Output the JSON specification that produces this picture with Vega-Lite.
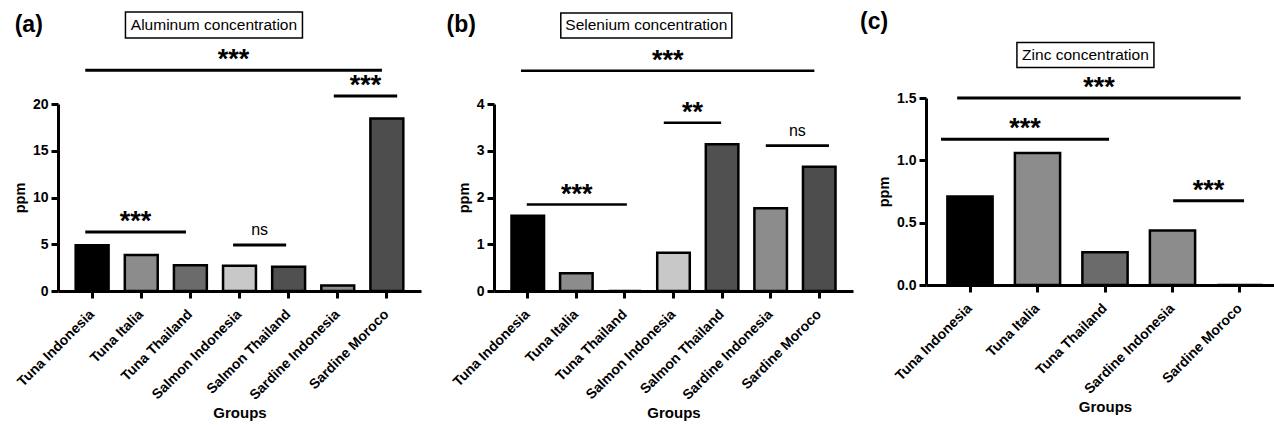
{
  "$schema": "https://vega.github.io/schema/vega-lite/v6.json",
  "background": "white",
  "padding": {"left": 12, "top": 8, "right": 0, "bottom": 0},
  "config": {
    "font": "Liberation Sans",
    "view": {"stroke": null},
    "axis": {"domainColor": "black", "domainWidth": 3, "tickColor": "black", "tickWidth": 3, "tickSize": 7, "grid": false, "labelColor": "black", "titleColor": "black", "labelFontWeight": "bold", "titleFontWeight": "bold", "labelFont": "Liberation Sans", "titleFont": "Liberation Sans"},
    "axisX": {"labelAngle": -45, "labelFontSize": 14, "titleFontSize": 15, "titlePadding": 3, "labelPadding": 9, "labelOffset": -5},
    "axisY": {"labelFontSize": 14, "titleFontSize": 14.5, "titlePadding": 5, "labelPadding": 3}
  },
  "datasets": {
    "al": [
      {"group": "Tuna Indonesia", "ppm": 4.9},
      {"group": "Tuna Italia", "ppm": 3.85},
      {"group": "Tuna Thailand", "ppm": 2.75},
      {"group": "Salmon Indonesia", "ppm": 2.7},
      {"group": "Salmon Thailand", "ppm": 2.6},
      {"group": "Sardine Indonesia", "ppm": 0.6},
      {"group": "Sardine Moroco", "ppm": 18.45}
    ],
    "se": [
      {"group": "Tuna Indonesia", "ppm": 1.61},
      {"group": "Tuna Italia", "ppm": 0.38},
      {"group": "Tuna Thailand", "ppm": 0},
      {"group": "Salmon Indonesia", "ppm": 0.82},
      {"group": "Salmon Thailand", "ppm": 3.14},
      {"group": "Sardine Indonesia", "ppm": 1.77},
      {"group": "Sardine Moroco", "ppm": 2.66}
    ],
    "zn": [
      {"group": "Tuna Indonesia", "ppm": 0.71},
      {"group": "Tuna Italia", "ppm": 1.058},
      {"group": "Tuna Thailand", "ppm": 0.262},
      {"group": "Sardine Indonesia", "ppm": 0.438},
      {"group": "Sardine Moroco", "ppm": 0}
    ],
    "annA": [
      {"x0": -0.14, "x1": 5.9, "y": 23.6, "label": "***"},
      {"x0": 4.92, "x1": 6.21, "y": 20.86, "label": "***"},
      {"x0": -0.14, "x1": 1.91, "y": 6.31, "label": "***"},
      {"x0": 2.87, "x1": 3.95, "y": 4.92, "label": "ns"}
    ],
    "annB": [
      {"x0": -0.14, "x1": 5.9, "y": 4.71, "label": "***"},
      {"x0": 2.8, "x1": 3.98, "y": 3.6, "label": "**"},
      {"x0": 4.9, "x1": 6.2, "y": 3.11, "label": "ns"},
      {"x0": -0.02, "x1": 2.04, "y": 1.85, "label": "***"}
    ],
    "annC": [
      {"x0": -0.19, "x1": 4.01, "y": 1.5, "label": "***"},
      {"x0": -0.43, "x1": 2.06, "y": 1.169, "label": "***"},
      {"x0": 3.01, "x1": 4.06, "y": 0.675, "label": "***"}
    ],
    "tA": [{"panel": "(a)", "title": "Aluminum concentration"}],
    "tB": [{"panel": "(b)", "title": "Selenium concentration"}],
    "tC": [{"panel": "(c)", "title": "Zinc concentration"}]
  },
  "bounds": "flush",
  "spacing": 73,
  "hconcat": [
    {
      "width": 363,
      "height": 187,
      "resolve": {"scale": {"x": "independent"}},
      "layer": [
        {
          "data": {"name": "al"},
          "mark": {"type": "bar", "stroke": "black", "strokeWidth": 2.5},
          "encoding": {
            "x": {"field": "group", "type": "nominal", "sort": null, "scale": {"paddingInner": 0.33, "paddingOuter": 0.36}, "axis": {"title": "Groups"}},
            "y": {"field": "ppm", "type": "quantitative", "title": "ppm", "scale": {"domain": [0, 20], "nice": false}, "axis": {"values": [0, 5, 10, 15, 20]}},
            "color": {"field": "group", "type": "nominal", "legend": null, "scale": {"domain": ["Tuna Indonesia", "Tuna Italia", "Tuna Thailand", "Salmon Indonesia", "Salmon Thailand", "Sardine Indonesia", "Sardine Moroco"], "range": ["#000000", "#8c8c8c", "#6b6b6b", "#c8c8c8", "#505050", "#8c8c8c", "#4d4d4d"]}}
          }
        },
        {
          "data": {"name": "annA"},
          "mark": {"type": "rule", "strokeWidth": 3, "color": "black"},
          "encoding": {
            "x": {"field": "x0", "type": "quantitative", "scale": {"domain": [-0.695, 6.695], "nice": false, "zero": false}, "axis": null},
            "x2": {"field": "x1"},
            "y": {"field": "y", "type": "quantitative", "title": "ppm", "scale": {"domain": [0, 20], "nice": false}}
          }
        },
        {
          "data": {"name": "annA"},
          "transform": [{"filter": "datum.label != 'ns'"}, {"calculate": "(datum.x0 + datum.x1) / 2", "as": "xm"}],
          "mark": {"type": "text", "fontSize": 27, "fontWeight": "bold", "baseline": "alphabetic", "align": "center", "dy": -2, "color": "black"},
          "encoding": {
            "x": {"field": "xm", "type": "quantitative", "scale": {"domain": [-0.695, 6.695], "nice": false, "zero": false}, "axis": null},
            "y": {"field": "y", "type": "quantitative", "title": "ppm", "scale": {"domain": [0, 20], "nice": false}},
            "text": {"field": "label"}
          }
        },
        {
          "data": {"name": "annA"},
          "transform": [{"filter": "datum.label == 'ns'"}, {"calculate": "(datum.x0 + datum.x1) / 2", "as": "xm"}],
          "mark": {"type": "text", "fontSize": 16, "baseline": "alphabetic", "align": "center", "dy": -10, "color": "black"},
          "encoding": {
            "x": {"field": "xm", "type": "quantitative", "scale": {"domain": [-0.695, 6.695], "nice": false, "zero": false}, "axis": null},
            "y": {"field": "y", "type": "quantitative", "title": "ppm", "scale": {"domain": [0, 20], "nice": false}},
            "text": {"field": "label"}
          }
        },
        {
          "data": {"name": "tA"},
          "mark": {"type": "point", "shape": "M-1,-0.147L1,-0.147L1,0.147L-1,0.147Z", "size": 31329, "filled": false, "stroke": "black", "strokeWidth": 1.5, "opacity": 1},
          "encoding": {
            "x": {"datum": 2.48, "type": "quantitative", "scale": {"domain": [-0.695, 6.695], "nice": false, "zero": false}, "axis": null},
            "y": {"datum": 28.45, "type": "quantitative", "title": "ppm", "scale": {"domain": [0, 20], "nice": false}}
          }
        },
        {
          "data": {"name": "tA"},
          "mark": {"type": "text", "fontSize": 15.5, "baseline": "middle", "align": "center", "color": "black"},
          "encoding": {
            "x": {"datum": 2.48, "type": "quantitative", "scale": {"domain": [-0.695, 6.695], "nice": false, "zero": false}, "axis": null},
            "y": {"datum": 28.45, "type": "quantitative", "title": "ppm", "scale": {"domain": [0, 20], "nice": false}},
            "text": {"field": "title"}
          }
        },
        {
          "data": {"name": "tA"},
          "mark": {"type": "text", "fontSize": 23, "fontWeight": "bold", "baseline": "middle", "align": "center", "color": "black"},
          "encoding": {
            "x": {"datum": -1.29, "type": "quantitative", "scale": {"domain": [-0.695, 6.695], "nice": false, "zero": false}, "axis": null},
            "y": {"datum": 28.45, "type": "quantitative", "title": "ppm", "scale": {"domain": [0, 20], "nice": false}},
            "text": {"field": "panel"}
          }
        }
      ]
    },
    {
      "width": 359,
      "height": 187,
      "resolve": {"scale": {"x": "independent"}},
      "layer": [
        {
          "data": {"name": "se"},
          "mark": {"type": "bar", "stroke": "black", "strokeWidth": 2.5},
          "encoding": {
            "x": {"field": "group", "type": "nominal", "sort": null, "scale": {"paddingInner": 0.33, "paddingOuter": 0.36}, "axis": {"title": "Groups"}},
            "y": {"field": "ppm", "type": "quantitative", "title": "ppm", "scale": {"domain": [0, 4], "nice": false}, "axis": {"values": [0, 1, 2, 3, 4]}},
            "color": {"field": "group", "type": "nominal", "legend": null, "scale": {"domain": ["Tuna Indonesia", "Tuna Italia", "Tuna Thailand", "Salmon Indonesia", "Salmon Thailand", "Sardine Indonesia", "Sardine Moroco"], "range": ["#000000", "#8c8c8c", "#6b6b6b", "#c8c8c8", "#505050", "#8c8c8c", "#4d4d4d"]}}
          }
        },
        {
          "data": {"name": "annB"},
          "mark": {"type": "rule", "strokeWidth": 2.6, "color": "black"},
          "encoding": {
            "x": {"field": "x0", "type": "quantitative", "scale": {"domain": [-0.695, 6.695], "nice": false, "zero": false}, "axis": null},
            "x2": {"field": "x1"},
            "y": {"field": "y", "type": "quantitative", "title": "ppm", "scale": {"domain": [0, 4], "nice": false}}
          }
        },
        {
          "data": {"name": "annB"},
          "transform": [{"filter": "datum.label != 'ns'"}, {"calculate": "(datum.x0 + datum.x1) / 2", "as": "xm"}],
          "mark": {"type": "text", "fontSize": 27, "fontWeight": "bold", "baseline": "alphabetic", "align": "center", "dy": -2, "color": "black"},
          "encoding": {
            "x": {"field": "xm", "type": "quantitative", "scale": {"domain": [-0.695, 6.695], "nice": false, "zero": false}, "axis": null},
            "y": {"field": "y", "type": "quantitative", "title": "ppm", "scale": {"domain": [0, 4], "nice": false}},
            "text": {"field": "label"}
          }
        },
        {
          "data": {"name": "annB"},
          "transform": [{"filter": "datum.label == 'ns'"}, {"calculate": "(datum.x0 + datum.x1) / 2", "as": "xm"}],
          "mark": {"type": "text", "fontSize": 16, "baseline": "alphabetic", "align": "center", "dy": -10, "color": "black"},
          "encoding": {
            "x": {"field": "xm", "type": "quantitative", "scale": {"domain": [-0.695, 6.695], "nice": false, "zero": false}, "axis": null},
            "y": {"field": "y", "type": "quantitative", "title": "ppm", "scale": {"domain": [0, 4], "nice": false}},
            "text": {"field": "label"}
          }
        },
        {
          "data": {"name": "tB"},
          "mark": {"type": "point", "shape": "M-1,-0.146L1,-0.146L1,0.146L-1,0.146Z", "size": 29241, "filled": false, "stroke": "black", "strokeWidth": 1.5, "opacity": 1},
          "encoding": {
            "x": {"datum": 2.44, "type": "quantitative", "scale": {"domain": [-0.695, 6.695], "nice": false, "zero": false}, "axis": null},
            "y": {"datum": 5.68, "type": "quantitative", "title": "ppm", "scale": {"domain": [0, 4], "nice": false}}
          }
        },
        {
          "data": {"name": "tB"},
          "mark": {"type": "text", "fontSize": 15.5, "baseline": "middle", "align": "center", "color": "black"},
          "encoding": {
            "x": {"datum": 2.44, "type": "quantitative", "scale": {"domain": [-0.695, 6.695], "nice": false, "zero": false}, "axis": null},
            "y": {"datum": 5.68, "type": "quantitative", "title": "ppm", "scale": {"domain": [0, 4], "nice": false}},
            "text": {"field": "title"}
          }
        },
        {
          "data": {"name": "tB"},
          "mark": {"type": "text", "fontSize": 23, "fontWeight": "bold", "baseline": "middle", "align": "center", "color": "black"},
          "encoding": {
            "x": {"datum": -1.37, "type": "quantitative", "scale": {"domain": [-0.695, 6.695], "nice": false, "zero": false}, "axis": null},
            "y": {"datum": 5.69, "type": "quantitative", "title": "ppm", "scale": {"domain": [0, 4], "nice": false}},
            "text": {"field": "panel"}
          }
        }
      ]
    },
    {
      "width": 358,
      "height": 181,
      "resolve": {"scale": {"x": "independent"}},
      "layer": [
        {
          "data": {"name": "zn"},
          "mark": {"type": "bar", "stroke": "black", "strokeWidth": 2.5},
          "encoding": {
            "x": {"field": "group", "type": "nominal", "sort": null, "scale": {"paddingInner": 0.33, "paddingOuter": 0.317}, "axis": {"title": "Groups"}},
            "y": {"field": "ppm", "type": "quantitative", "title": "ppm", "scale": {"domain": [0, 1.5], "nice": false, "range": [181, -6]}, "axis": {"values": [0, 0.5, 1, 1.5], "format": ".1f"}},
            "color": {"field": "group", "type": "nominal", "legend": null, "scale": {"domain": ["Tuna Indonesia", "Tuna Italia", "Tuna Thailand", "Salmon Indonesia", "Salmon Thailand", "Sardine Indonesia", "Sardine Moroco"], "range": ["#000000", "#8c8c8c", "#6b6b6b", "#c8c8c8", "#505050", "#8c8c8c", "#4d4d4d"]}}
          }
        },
        {
          "data": {"name": "annC"},
          "mark": {"type": "rule", "strokeWidth": 3, "color": "black"},
          "encoding": {
            "x": {"field": "x0", "type": "quantitative", "scale": {"domain": [-0.652, 4.652], "nice": false, "zero": false}, "axis": null},
            "x2": {"field": "x1"},
            "y": {"field": "y", "type": "quantitative", "title": "ppm", "scale": {"domain": [0, 1.5], "nice": false, "range": [181, -6]}}
          }
        },
        {
          "data": {"name": "annC"},
          "transform": [{"calculate": "(datum.x0 + datum.x1) / 2", "as": "xm"}],
          "mark": {"type": "text", "fontSize": 27, "fontWeight": "bold", "baseline": "alphabetic", "align": "center", "dy": -2, "color": "black"},
          "encoding": {
            "x": {"field": "xm", "type": "quantitative", "scale": {"domain": [-0.652, 4.652], "nice": false, "zero": false}, "axis": null},
            "y": {"field": "y", "type": "quantitative", "title": "ppm", "scale": {"domain": [0, 1.5], "nice": false, "range": [181, -6]}},
            "text": {"field": "label"}
          }
        },
        {
          "data": {"name": "tC"},
          "mark": {"type": "point", "shape": "M-1,-0.182L1,-0.182L1,0.182L-1,0.182Z", "size": 18769, "filled": false, "stroke": "black", "strokeWidth": 1.5, "opacity": 1},
          "encoding": {
            "x": {"datum": 1.71, "type": "quantitative", "scale": {"domain": [-0.652, 4.652], "nice": false, "zero": false}, "axis": null},
            "y": {"datum": 1.845, "type": "quantitative", "title": "ppm", "scale": {"domain": [0, 1.5], "nice": false, "range": [181, -6]}}
          }
        },
        {
          "data": {"name": "tC"},
          "mark": {"type": "text", "fontSize": 15.5, "baseline": "middle", "align": "center", "color": "black"},
          "encoding": {
            "x": {"datum": 1.71, "type": "quantitative", "scale": {"domain": [-0.652, 4.652], "nice": false, "zero": false}, "axis": null},
            "y": {"datum": 1.845, "type": "quantitative", "title": "ppm", "scale": {"domain": [0, 1.5], "nice": false, "range": [181, -6]}},
            "text": {"field": "title"}
          }
        },
        {
          "data": {"name": "tC"},
          "mark": {"type": "text", "fontSize": 23, "fontWeight": "bold", "baseline": "middle", "align": "center", "color": "black"},
          "encoding": {
            "x": {"datum": -1.42, "type": "quantitative", "scale": {"domain": [-0.652, 4.652], "nice": false, "zero": false}, "axis": null},
            "y": {"datum": 2.106, "type": "quantitative", "title": "ppm", "scale": {"domain": [0, 1.5], "nice": false, "range": [181, -6]}},
            "text": {"field": "panel"}
          }
        }
      ]
    }
  ]
}
